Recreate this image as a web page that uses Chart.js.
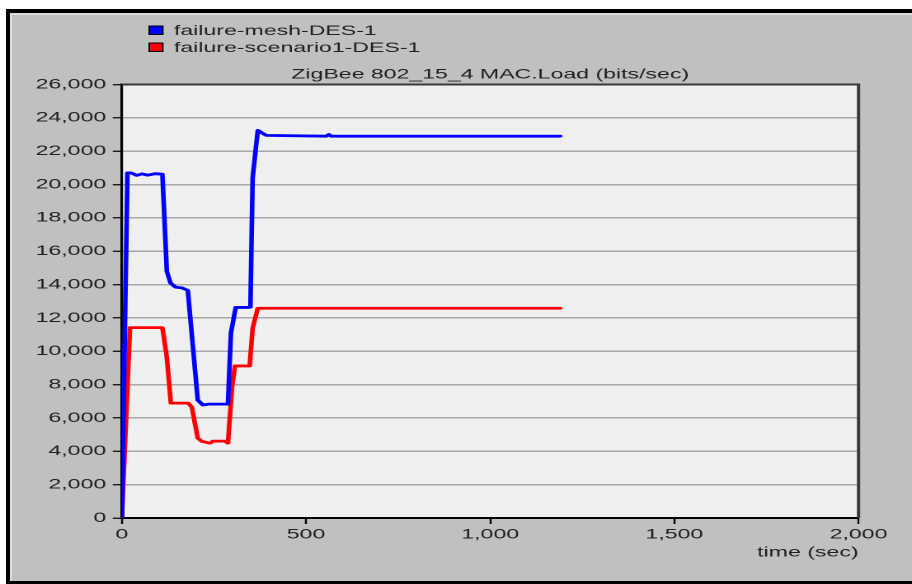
<!DOCTYPE html>
<html>
<head>
<meta charset="utf-8">
<script src="https://cdn.jsdelivr.net/npm/chart.js@4/dist/chart.umd.min.js"></script>
<style>
  html, body { margin: 0; padding: 0; background: #fff; overflow: hidden; width: 912px; height: 584px; }
  #frame {
    position: absolute; left: 6px; top: 9px; width: 910px; height: 568px;
    border-left: 4px solid #000; border-top: 4px solid #000; border-bottom: 3px solid #000;
    background: #c0c0c0; box-shadow: inset 2px 2px 0 #dcdcdc;
  }
  /* the reference is stretched sideways, so the chart is drawn narrow and scaled */
  #wrap { position: absolute; left: 0; top: 0; width: 553px; height: 584px; transform: scaleX(1.6491); transform-origin: 0 0; }
</style>
</head>
<body>
<div id="frame"></div>
<div id="wrap"><canvas id="c" width="553" height="584"></canvas></div>
<script>
// ── Data (time in sec, load in bits/sec) ──────────────────────────────────
var seriesNames = ["failure-mesh-DES-1", "failure-scenario1-DES-1"];
var seriesColors = ["#0000ff", "#ff0000"];

var meshTime = [0, 15, 25, 40, 55, 70, 90, 110, 122, 132, 145, 163, 179, 206, 220, 235, 288, 296, 309, 345, 349, 355, 369, 392, 555, 562, 568, 1190];
var meshLoad = [0, 20700, 20700, 20550, 20640, 20560, 20650, 20620, 14800, 14100, 13850, 13800, 13650, 7070, 6780, 6830, 6830, 11080, 12630, 12630, 12650, 20400, 23250, 22950, 22900, 23000, 22900, 22900];

var scenTime = [0, 22, 110, 122, 133, 180, 190, 198, 206, 217, 239, 247, 280, 288, 299, 307, 347, 355, 369, 1190];
var scenLoad = [0, 11420, 11420, 9640, 6890, 6890, 6650, 5700, 4790, 4600, 4490, 4610, 4610, 4490, 7840, 9120, 9120, 11380, 12580, 12580];

var xTicks = [0, 500, 1000, 1500, 2000];
var yMax = 26000;
var yStep = 2000;

var chartTitle = "ZigBee 802_15_4 MAC.Load (bits/sec)";
var xTitle = "time (sec)";

function toPoints(xs, ys) {
    return xs.map(function (x, i) { return { x: x, y: ys[i] }; });
}

var FONT = "'Liberation Sans', Arial, sans-serif";

// ── Plot background, border, title and legend ─────────────────────────────
var frameText = {
    id: "frameText",
    beforeDraw: function (chart) {
        var a = chart.chartArea, ctx = chart.ctx;
        ctx.save();
        ctx.fillStyle = "#efefef";
        ctx.fillRect(a.left, a.top, a.right - a.left, a.bottom - a.top);
        ctx.restore();
    },
    afterDraw: function (chart) {
        var a = chart.chartArea, ctx = chart.ctx;
        ctx.save();
        // top and right border of the plot
        ctx.strokeStyle = "#3a3a3a";
        ctx.lineWidth = 2;
        ctx.beginPath();
        ctx.moveTo(a.left, a.top);
        ctx.lineTo(a.right, a.top);
        ctx.lineTo(a.right, a.bottom);
        ctx.stroke();
        // title
        ctx.fillStyle = "#202020";
        ctx.font = "14px " + FONT;
        ctx.textAlign = "center";
        ctx.textBaseline = "alphabetic";
        ctx.fillText(chartTitle, (a.left + a.right) / 2, 78.5);
        // legend
        ctx.textAlign = "left";
        for (var i = 0; i < seriesNames.length; i++) {
            var y = 26 + i * 17;
            ctx.fillStyle = seriesColors[i];
            ctx.fillRect(90.5, y, 8.2, 8.5);
            ctx.strokeStyle = "#000";
            ctx.lineWidth = 1;
            ctx.strokeRect(90.5, y, 8.2, 8.5);
            ctx.fillStyle = "#202020";
            ctx.fillText(seriesNames[i], 105.5, y + 9);
        }
        ctx.restore();
    }
};

new Chart(document.getElementById("c"), {
    type: "line",
    data: {
        datasets: [{
            label: seriesNames[0],
            data: toPoints(meshTime, meshLoad),
            borderColor: seriesColors[0],
            backgroundColor: seriesColors[0],
            borderWidth: 2.8,
            pointRadius: 0,
            tension: 0,
            borderJoinStyle: "round",
            borderCapStyle: "round"
        }, {
            label: seriesNames[1],
            data: toPoints(scenTime, scenLoad),
            borderColor: seriesColors[1],
            backgroundColor: seriesColors[1],
            borderWidth: 2.8,
            pointRadius: 0,
            tension: 0,
            borderJoinStyle: "round",
            borderCapStyle: "round"
        }]
    },
    options: {
        responsive: false,
        animation: false,
        devicePixelRatio: 2,
        layout: { padding: { left: 0, right: 32.4, top: 84.5, bottom: 23 } },
        plugins: {
            legend: { display: false },
            title: { display: false },
            tooltip: { enabled: false }
        },
        scales: {
            x: {
                type: "linear",
                min: 0,
                max: xTicks[xTicks.length - 1],
                afterBuildTicks: function (s) { s.ticks = xTicks.map(function (v) { return { value: v }; }); },
                afterFit: function (s) { s.height = 43; },
                grid: { drawOnChartArea: false, tickLength: 6, tickColor: "#000", tickWidth: 1.2 },
                border: { color: "#000", width: 2 },
                ticks: { color: "#202020", font: { family: FONT, size: 14 }, padding: 2, maxRotation: 0 },
                title: { display: true, text: xTitle, align: "end", color: "#202020", font: { family: FONT, size: 14 }, padding: { top: 2, bottom: 0 } }
            },
            y: {
                min: 0,
                max: yMax,
                ticks: { stepSize: yStep, color: "#202020", font: { family: FONT, size: 14 }, padding: 4 },
                afterFit: function (s) { s.width = 73.9; },
                grid: { color: "#a8a8a8", lineWidth: 1.5, tickLength: 5.5, tickColor: "#000", tickWidth: 1.2 },
                border: { color: "#000", width: 1.6 }
            }
        }
    },
    plugins: [frameText]
});
</script>
</body>
</html>
